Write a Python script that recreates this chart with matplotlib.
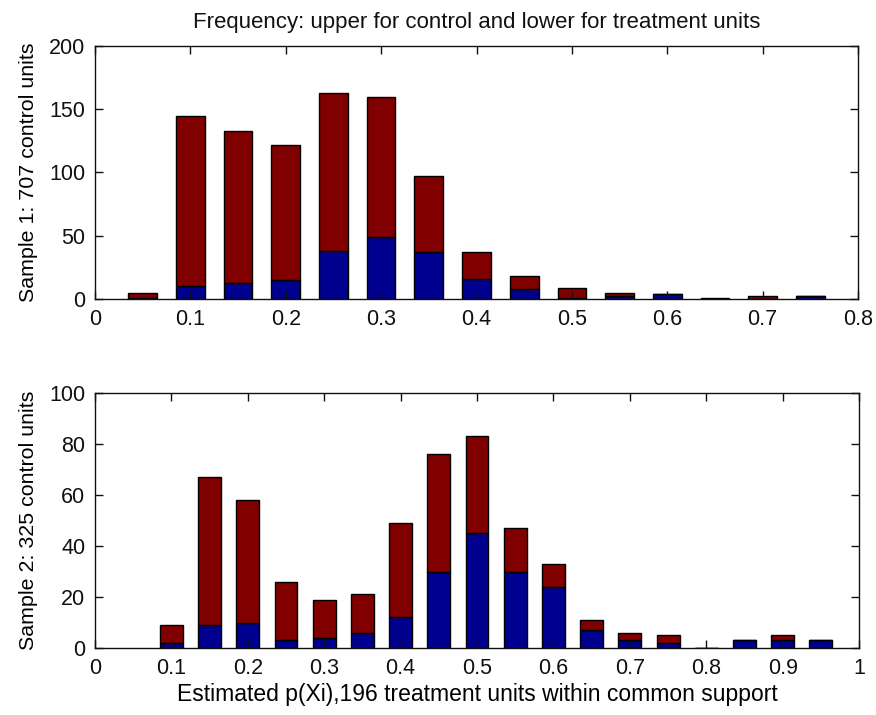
import numpy as np
import matplotlib
matplotlib.use("Agg")
import matplotlib.pyplot as plt

# sample 1: bin centres and counts per bin
s1_bins = [0.05, 0.10, 0.15, 0.20, 0.25, 0.30, 0.35, 0.40, 0.45, 0.50,
           0.55, 0.60, 0.65, 0.70, 0.75]
s1_treat = [1, 10, 13, 15, 38, 49, 37, 16, 8, 1, 2, 4, 0, 0, 2]
s1_control = [4, 135, 120, 107, 125, 111, 60, 21, 10, 8, 3, 0, 1, 2, 0]

# sample 2
s2_bins = [0.10, 0.15, 0.20, 0.25, 0.30, 0.35, 0.40, 0.45, 0.50, 0.55,
           0.60, 0.65, 0.70, 0.75, 0.80, 0.85, 0.90, 0.95]
s2_treat = [2, 9, 10, 3, 4, 6, 12, 30, 45, 30, 24, 7, 3, 2, 0, 3, 3, 3]
s2_control = [7, 58, 48, 23, 15, 15, 37, 46, 38, 17, 9, 4, 3, 3, 0, 0, 2, 0]

s1_xticks = [0, 0.1, 0.2, 0.3, 0.4, 0.5, 0.6, 0.7, 0.8]
s1_xlabels = ["0", "0.1", "0.2", "0.3", "0.4", "0.5", "0.6", "0.7", "0.8"]
s1_yticks = [0, 50, 100, 150, 200]
s2_xticks = [0, 0.1, 0.2, 0.3, 0.4, 0.5, 0.6, 0.7, 0.8, 0.9, 1]
s2_xlabels = ["0", "0.1", "0.2", "0.3", "0.4", "0.5", "0.6", "0.7", "0.8", "0.9", "1"]
s2_yticks = [0, 20, 40, 60, 80, 100]

BLUE = "#00008f"
RED = "#800000"

plt.rcParams["font.family"] = ["Liberation Sans", "DejaVu Sans"]
plt.rcParams["text.color"] = "#111111"

fig = plt.figure(figsize=(8.76, 7.15), dpi=100)
ax1 = fig.add_axes([0.1084, 0.5818, 0.8711, 0.3539])
ax2 = fig.add_axes([0.1084, 0.0937, 0.8723, 0.3566])


def stacked(ax, bins, treat, control, xlim, ylim, xticks, xlabels, yticks):
    ax.bar(bins, treat, width=0.03, color=BLUE, edgecolor="black", linewidth=1)
    ax.bar(bins, control, width=0.03, bottom=treat, color=RED,
           edgecolor="black", linewidth=1)
    ax.set_xlim(*xlim)
    ax.set_ylim(*ylim)
    ax.set_xticks(xticks)
    ax.set_xticklabels(xlabels)
    ax.set_yticks(yticks)
    ax.tick_params(direction="in", top=True, right=True, length=6, width=1,
                   pad=7, colors="#111111", labelsize=15.5)
    for sp in ax.spines.values():
        sp.set_linewidth(1)
        sp.set_color("#111111")


stacked(ax1, s1_bins, s1_treat, s1_control, (0, 0.8), (0, 200),
        s1_xticks, s1_xlabels, s1_yticks)
ax1.set_ylabel("Sample 1: 707 control units", fontsize=15.4, labelpad=8)
ax1.set_title("Frequency: upper for control and lower for treatment units",
              fontsize=16, pad=13)

stacked(ax2, s2_bins, s2_treat, s2_control, (0, 1), (0, 100),
        s2_xticks, s2_xlabels, s2_yticks)
ax2.set_ylabel("Sample 2: 325 control units", fontsize=15.4, labelpad=8)
ax2.set_xlabel("Estimated p(Xi),196 treatment units within common support",
               fontsize=16.5, labelpad=3)

fig.savefig("out.png", dpi=100)
